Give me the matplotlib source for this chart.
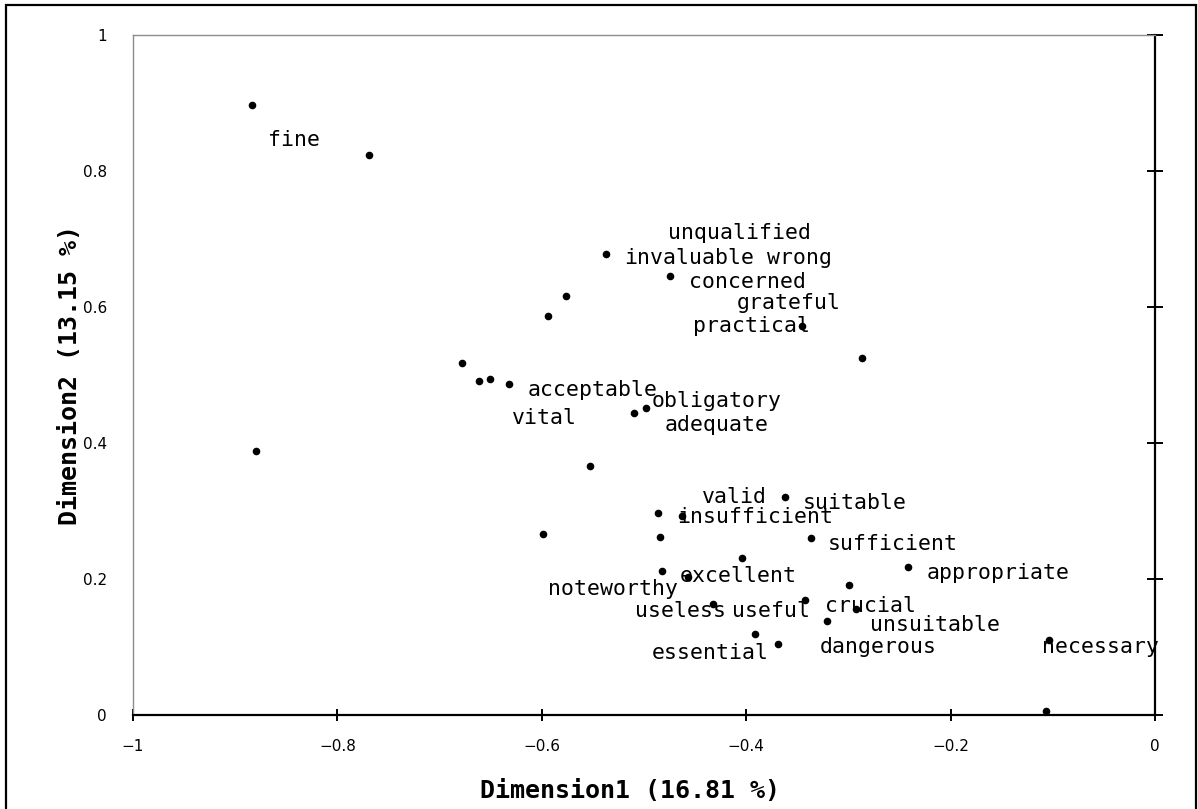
import matplotlib
matplotlib.use("Agg")
import matplotlib.pyplot as plt
from matplotlib.patches import Rectangle

# 点の座標 (Dimension1, Dimension2)
dim1 = [-0.884, -0.769, -0.537, -0.475, -0.576, -0.594, -0.345, -0.287,
        -0.678, -0.661, -0.651, -0.632, -0.510, -0.498, -0.553, -0.880,
        -0.486, -0.362, -0.463, -0.599, -0.484, -0.337, -0.404, -0.242,
        -0.482, -0.457, -0.299, -0.432, -0.342, -0.293, -0.321, -0.391,
        -0.369, -0.104, -0.107]
dim2 = [0.897, 0.824, 0.678, 0.646, 0.616, 0.587, 0.572, 0.525,
        0.518, 0.491, 0.494, 0.487, 0.444, 0.451, 0.366, 0.388,
        0.297, 0.321, 0.293, 0.266, 0.262, 0.260, 0.231, 0.218,
        0.212, 0.203, 0.191, 0.163, 0.169, 0.156, 0.138, 0.119,
        0.104, 0.110, 0.006]

# ラベル (単語, 左端x, ベースラインy)
words = ["fine", "unqualified", "invaluable", "wrong", "concerned", "grateful",
         "practical", "acceptable", "obligatory", "vital", "adequate", "valid",
         "suitable", "insufficient", "sufficient", "appropriate", "excellent",
         "noteworthy", "useless", "useful", "crucial", "unsuitable", "dangerous",
         "essential", "necessary"]
word_x = [-0.868, -0.477, -0.519, -0.380, -0.456, -0.409,
          -0.452, -0.614, -0.493, -0.629, -0.480, -0.443,
          -0.345, -0.468, -0.320, -0.223, -0.465,
          -0.594, -0.509, -0.414, -0.323, -0.279, -0.328,
          -0.492, -0.111]
word_y = [0.837, 0.700, 0.663, 0.663, 0.628, 0.597,
          0.563, 0.469, 0.453, 0.428, 0.418, 0.312,
          0.303, 0.282, 0.243, 0.200, 0.196,
          0.176, 0.144, 0.144, 0.151, 0.124, 0.091,
          0.082, 0.091]

x_ticks = [-1, -0.8, -0.6, -0.4, -0.2, 0]
y_ticks = [0, 0.2, 0.4, 0.6, 0.8, 1]

fig = plt.figure(figsize=(11.98, 8.09), dpi=100)
ax = fig.add_axes([133 / 1198, 94 / 809, 1022 / 1198, 680 / 809])

ax.scatter(dim1, dim2, s=20, color="black", zorder=3, clip_on=False)
for w, x, y in zip(words, word_x, word_y):
    ax.text(x, y, w, family="DejaVu Sans Mono", fontsize=15.5,
            ha="left", va="baseline", zorder=4)

ax.set_xlim(-1, 0)
ax.set_ylim(0, 1)
ax.set_xticks(x_ticks)
ax.set_yticks(y_ticks)
ax.set_xticklabels(["−1", "−0.8", "−0.6", "−0.4", "−0.2", "0"])
ax.set_yticklabels(["0", "0.2", "0.4", "0.6", "0.8", "1"])

# 枠線: 左と上は灰色, 軸(y=0, x=0)は黒
for s in ["left", "top"]:
    ax.spines[s].set_color("#8c8c8c")
    ax.spines[s].set_linewidth(1.0)
for s in ["bottom", "right"]:
    ax.spines[s].set_color("black")
    ax.spines[s].set_linewidth(1.6)

ax.tick_params(axis="x", direction="inout", length=9, width=1.4,
               labelsize=11, pad=13)
ax.tick_params(axis="y", direction="inout", length=11.5, width=1.4,
               left=False, right=True, labelleft=True, labelright=False,
               labelsize=11, pad=13)

ax.set_xlabel("Dimension1 (16.81 %)", family="DejaVu Sans Mono",
              fontweight="bold", fontsize=18)
ax.set_ylabel("Dimension2 (13.15 %)", family="DejaVu Sans Mono",
              fontweight="bold", fontsize=18)
ax.xaxis.set_label_coords(0.486, -0.094)
ax.yaxis.set_label_coords(-0.05, 0.5)

# 外枠
fig.patches.append(Rectangle((6 / 1198, -0.02), 1190 / 1198, 1.02 - 5 / 809,
                             transform=fig.transFigure, fill=False,
                             edgecolor="black", linewidth=1.6))

fig.savefig("out.png", dpi=100)
